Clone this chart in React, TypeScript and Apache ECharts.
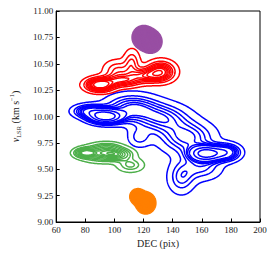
import React, { useEffect, useRef } from 'react';
import * as echarts from 'echarts';

// Axis ranges / ticks
const xMin = 60, xMax = 200, xStep = 20;
const yMin = 9, yMax = 11, yStep = 0.25;
const xLabel = 'DEC (pix)';

// Iso-proportion levels (seaborn kdeplot style, levels=10, thresh=0.05)
const levelProps = [0.05, 0.1556, 0.2611, 0.3667, 0.4722, 0.5778, 0.6833, 0.7889, 0.8944];

// Density components of each velocity component
const blueDec = [94, 83, 163, 177, 150, 133, 112, 117, 146, 160];
const blueVel = [10.0, 10.05, 9.65, 9.66, 9.8, 9.98, 10.08, 9.8, 9.42, 9.52];
const blueSigDec = [7, 7, 7, 6, 12, 12, 12, 5, 6, 9];
const blueSigVel = [0.04, 0.04, 0.045, 0.05, 0.1, 0.09, 0.085, 0.06, 0.1, 0.08];
const blueWeight = [1.0, 0.4, 0.9, 0.45, 0.3, 0.28, 0.32, 0.15, 0.2, 0.2];

const redDec = [90, 105, 122, 132, 112, 102];
const redVel = [10.3, 10.34, 10.39, 10.43, 10.51, 10.44];
const redSigDec = [6, 8, 8, 6, 3.5, 6];
const redSigVel = [0.04, 0.04, 0.045, 0.06, 0.08, 0.06];
const redWeight = [1.0, 0.5, 0.5, 0.65, 0.3, 0.3];

const greenDec = [80, 92, 103, 111, 95];
const greenVel = [9.655, 9.65, 9.64, 9.54, 9.71];
const greenSigDec = [4, 9, 6, 5.5, 6];
const greenSigVel = [0.025, 0.045, 0.035, 0.04, 0.03];
const greenWeight = [1.0, 0.8, 0.5, 0.35, 0.25];

const orangeDec = [116, 121.5];
const orangeVel = [9.24, 9.18];
const orangeSigDec = [2.5, 3];
const orangeSigVel = [0.035, 0.045];
const orangeWeight = [0.7, 1.0];

const purpleDec = [120, 125];
const purpleVel = [10.75, 10.71];
const purpleSigDec = [3.5, 3.5];
const purpleSigVel = [0.05, 0.05];
const purpleWeight = [1.0, 0.9];

const DX = 0.5, DY = 0.005;
const NX = Math.round((xMax - xMin) / DX) + 1;
const NY = Math.round((yMax - yMin) / DY) + 1;

function buildField(dec: number[], vel: number[], sd: number[], sv: number[], w: number[]) {
  const f = new Float64Array(NX * NY);
  for (let j = 0; j < NY; j++) {
    const y = yMin + j * DY;
    for (let i = 0; i < NX; i++) {
      const x = xMin + i * DX;
      let s = 0;
      for (let k = 0; k < dec.length; k++) {
        const a = (x - dec[k]) / sd[k];
        const b = (y - vel[k]) / sv[k];
        const e = a * a + b * b;
        if (e < 40) s += w[k] * Math.exp(-0.5 * e);
      }
      f[j * NX + i] = s;
    }
  }
  return f;
}

function isoLevels(f: Float64Array, props: number[]) {
  const sorted = Array.from(f).sort((a, b) => b - a);
  let total = 0;
  for (const v of sorted) total += v;
  const cum: number[] = new Array(sorted.length);
  let c = 0;
  for (let i = 0; i < sorted.length; i++) { c += sorted[i]; cum[i] = c / total; }
  return props.map((p) => {
    const target = 1 - p;
    let lo = 0, hi = cum.length - 1;
    while (lo < hi) { const m = (lo + hi) >> 1; if (cum[m] < target) lo = m + 1; else hi = m; }
    return sorted[lo];
  });
}

type Pt = [number, number];

function contour(f: Float64Array, level: number): Pt[][] {
  const segA: number[] = [], segB: number[] = [];
  const pts = new Map<number, Pt>();
  const edgePt = (id: number, i: number, j: number, e: number, v: number[]): number => {
    if (!pts.has(id)) {
      let x = 0, y = 0;
      const x0 = xMin + i * DX, y0 = yMin + j * DY;
      if (e === 0) { const t = (level - v[0]) / (v[1] - v[0]); x = x0 + t * DX; y = y0; }
      else if (e === 1) { const t = (level - v[1]) / (v[2] - v[1]); x = x0 + DX; y = y0 + t * DY; }
      else if (e === 2) { const t = (level - v[3]) / (v[2] - v[3]); x = x0 + t * DX; y = y0 + DY; }
      else { const t = (level - v[0]) / (v[3] - v[0]); x = x0; y = y0 + t * DY; }
      pts.set(id, [x, y]);
    }
    return id;
  };
  const table: Record<number, number[][]> = {
    1: [[3, 0]], 2: [[0, 1]], 3: [[3, 1]], 4: [[1, 2]], 6: [[0, 2]], 7: [[3, 2]],
    8: [[2, 3]], 9: [[0, 2]], 11: [[1, 2]], 12: [[1, 3]], 13: [[0, 1]], 14: [[3, 0]],
  };
  for (let j = 0; j < NY - 1; j++) {
    for (let i = 0; i < NX - 1; i++) {
      const v = [f[j * NX + i], f[j * NX + i + 1], f[(j + 1) * NX + i + 1], f[(j + 1) * NX + i]];
      const code = (v[0] > level ? 1 : 0) | (v[1] > level ? 2 : 0) | (v[2] > level ? 4 : 0) | (v[3] > level ? 8 : 0);
      if (code === 0 || code === 15) continue;
      let segs: number[][];
      if (code === 5 || code === 10) {
        const center = (v[0] + v[1] + v[2] + v[3]) / 4 > level;
        if (code === 5) segs = center ? [[3, 2], [0, 1]] : [[3, 0], [1, 2]];
        else segs = center ? [[3, 0], [1, 2]] : [[0, 1], [2, 3]];
      } else segs = table[code];
      const ids = [
        (j * NX + i) * 2,
        (j * NX + i + 1) * 2 + 1,
        ((j + 1) * NX + i) * 2,
        (j * NX + i) * 2 + 1,
      ];
      for (const [ea, eb] of segs) {
        segA.push(edgePt(ids[ea], i, j, ea, v));
        segB.push(edgePt(ids[eb], i, j, eb, v));
      }
    }
  }
  const byId = new Map<number, number[]>();
  const add = (id: number, s: number) => { const l = byId.get(id); if (l) l.push(s); else byId.set(id, [s]); };
  for (let s = 0; s < segA.length; s++) { add(segA[s], s); add(segB[s], s); }
  const used = new Uint8Array(segA.length);
  const lines: Pt[][] = [];
  const walk = (start: number, from: number, out: number[]) => {
    let cur = start;
    let prevSeg = from;
    while (true) {
      const cands = byId.get(cur) || [];
      let next = -1;
      for (const s of cands) if (s !== prevSeg && !used[s]) { next = s; break; }
      if (next < 0) break;
      used[next] = 1;
      const other = segA[next] === cur ? segB[next] : segA[next];
      out.push(other);
      cur = other;
      prevSeg = next;
    }
  };
  for (let s = 0; s < segA.length; s++) {
    if (used[s]) continue;
    used[s] = 1;
    const fwd: number[] = [segA[s], segB[s]];
    walk(segB[s], s, fwd);
    const back: number[] = [];
    walk(segA[s], s, back);
    const ids = back.reverse().concat(fwd);
    lines.push(ids.map((id) => pts.get(id) as Pt));
  }
  return lines;
}

type Line = { pts: Pt[]; filled: boolean };

function clusterLines(dec: number[], vel: number[], sd: number[], sv: number[], w: number[], fillOuter: boolean): Line[] {
  const f = buildField(dec, vel, sd, sv, w);
  const lv = isoLevels(f, levelProps);
  const out: Line[] = [];
  lv.forEach((l, idx) => {
    for (const ln of contour(f, l)) {
      if (ln.length > 2) out.push({ pts: ln, filled: fillOuter && idx === 0 });
    }
  });
  return out;
}

function makeSeries(lines: Line[], color: string, z: number) {
  return {
    type: 'custom',
    coordinateSystem: 'cartesian2d',
    silent: true,
    z,
    data: lines.map((ln, k) => [ln.pts[0][0], ln.pts[0][1], k]),
    encode: { x: 0, y: 1 },
    renderItem: (params: any, api: any) => {
      const ln = lines[params.dataIndex];
      const points = ln.pts.map((p) => api.coord(p));
      return {
        type: ln.filled ? 'polygon' : 'polyline',
        shape: { points },
        style: { stroke: color, lineWidth: 1.5, fill: ln.filled ? color : 'none', lineJoin: 'round' },
      };
    },
  };
}

const serifFont = '"Liberation Serif", "DejaVu Serif", serif';

export default function App() {
  const ref = useRef<HTMLDivElement>(null);
  useEffect(() => {
    if (!ref.current) return;
    const chart = echarts.init(ref.current, undefined, { renderer: 'svg' });
    const blue = clusterLines(blueDec, blueVel, blueSigDec, blueSigVel, blueWeight, false);
    const red = clusterLines(redDec, redVel, redSigDec, redSigVel, redWeight, false);
    const green = clusterLines(greenDec, greenVel, greenSigDec, greenSigVel, greenWeight, false);
    const orange = clusterLines(orangeDec, orangeVel, orangeSigDec, orangeSigVel, orangeWeight, true);
    const purple = clusterLines(purpleDec, purpleVel, purpleSigDec, purpleSigVel, purpleWeight, true);
    chart.setOption({
      animation: false,
      backgroundColor: '#fff',
      grid: { left: 46, right: 14, top: 11, bottom: 33, show: true, borderColor: '#000', borderWidth: 1, backgroundColor: 'transparent' },
      xAxis: {
        type: 'value', min: xMin, max: xMax, interval: xStep,
        name: xLabel, nameLocation: 'middle', nameGap: 13,
        nameTextStyle: { fontFamily: serifFont, fontSize: 10, color: '#222' },
        axisLine: { show: true, lineStyle: { color: '#000', width: 1 } },
        axisTick: { show: true, inside: true, length: 3.5, lineStyle: { color: '#000' } },
        axisLabel: { fontFamily: serifFont, fontSize: 9, color: '#222', margin: 3 },
        splitLine: { show: false },
      },
      yAxis: {
        type: 'value', min: yMin, max: yMax, interval: yStep,
        name: '{v|v}{s|LSR}{a| (km s}{p|−1}{a|)}', nameLocation: 'middle', nameGap: 33,
        nameTextStyle: {
          fontFamily: serifFont, fontSize: 10, color: '#222',
          rich: {
            v: { fontFamily: serifFont, fontSize: 10, fontStyle: 'italic', color: '#222', lineHeight: 14 },
            a: { fontFamily: serifFont, fontSize: 10, color: '#222', lineHeight: 14 },
            s: { fontFamily: serifFont, fontSize: 6.5, color: '#222', verticalAlign: 'bottom', lineHeight: 7 },
            p: { fontFamily: serifFont, fontSize: 6.5, color: '#222', verticalAlign: 'top', lineHeight: 7 },
          },
        },
        axisLine: { show: true, lineStyle: { color: '#000', width: 1 } },
        axisTick: { show: true, inside: true, length: 3.5, lineStyle: { color: '#000' } },
        axisLabel: { fontFamily: serifFont, fontSize: 9, color: '#222', margin: 3, formatter: (v: number) => v.toFixed(2) },
        splitLine: { show: false },
      },
      series: [
        makeSeries(blue, '#0000ff', 2),
        makeSeries(red, '#ff0000', 3),
        makeSeries(green, '#4daf4a', 4),
        makeSeries(orange, '#ff7f00', 5),
        makeSeries(purple, '#984ea3', 6),
      ],
    });
    return () => chart.dispose();
  }, []);
  return <div ref={ref} style={{ width: 274, height: 255, position: 'absolute', left: 0, top: 0 }} />;
}
